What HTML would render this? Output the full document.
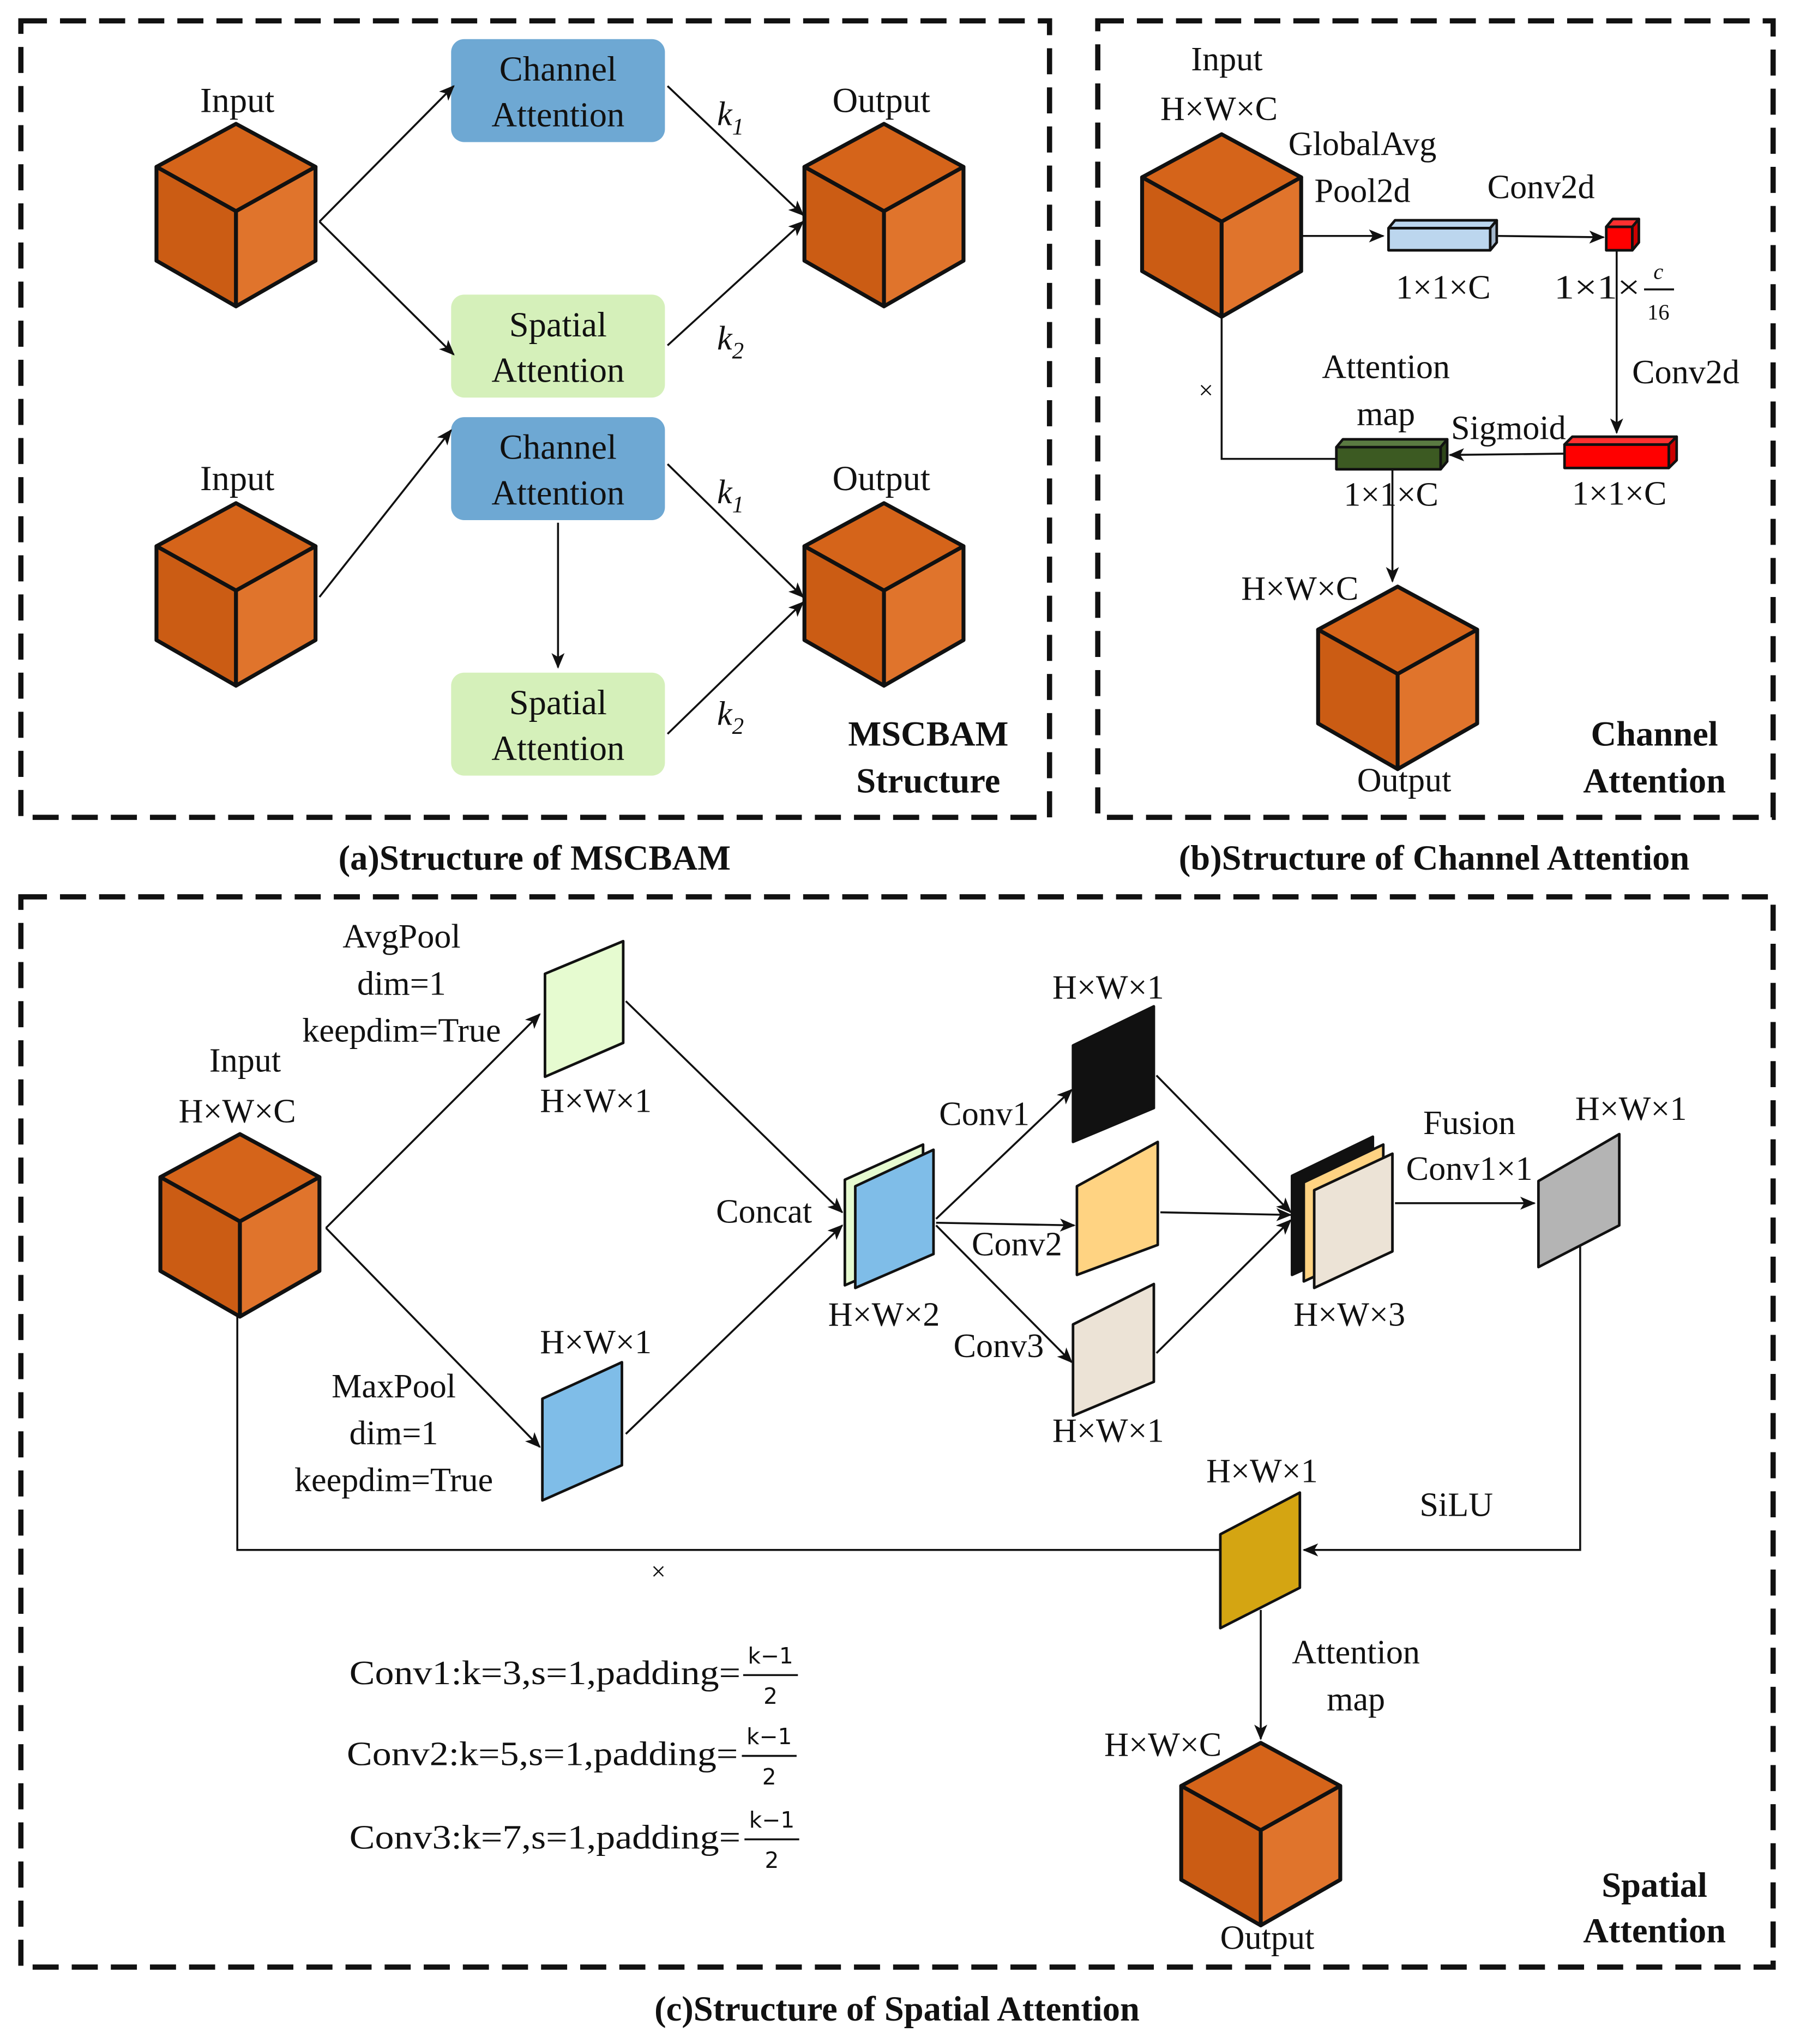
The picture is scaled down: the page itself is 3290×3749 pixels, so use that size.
<!DOCTYPE html>
<html><head><meta charset="utf-8"><style>
html,body{margin:0;padding:0;background:#fff}
svg{display:block}
text{font-family:"Liberation Serif",serif;fill:#111}
</style></head><body>
<svg width="3290" height="3749" viewBox="0 0 1376 1568" xmlns="http://www.w3.org/2000/svg">
<defs>
<marker id="ar" viewBox="0 0 12 10" refX="11" refY="5" markerWidth="12" markerHeight="10" markerUnits="userSpaceOnUse" orient="auto">
<path d="M0,0 L12,5 L0,10 L3,5 Z" fill="#111"/>
</marker>
<g id="cube">
<polygon points="61,0 122,33 61,67 0,33" fill="#d5641a" stroke="#111" stroke-width="3" stroke-linejoin="round"/>
<polygon points="0,33 61,67 61,140 0,105" fill="#cb5c14" stroke="#111" stroke-width="3" stroke-linejoin="round"/>
<polygon points="61,67 122,33 122,105 61,140" fill="#e0742c" stroke="#111" stroke-width="3" stroke-linejoin="round"/>
</g>
</defs>
<g fill="none" stroke="#111" stroke-width="4" stroke-dasharray="20 10">
<rect x="16" y="16" width="789" height="611"/>
<rect x="842" y="16" width="518" height="611"/>
<rect x="16" y="688" width="1344" height="821"/>
</g>

<!-- (a) -->
<use href="#cube" x="120" y="95"/><use href="#cube" x="617" y="95"/>
<use href="#cube" x="120" y="386"/><use href="#cube" x="617" y="386"/>
<rect x="346" y="30" width="164" height="79" rx="10" fill="#6ea8d3"/>
<rect x="346" y="226" width="164" height="79" rx="10" fill="#d5f0ba"/>
<rect x="346" y="320" width="164" height="79" rx="10" fill="#6ea8d3"/>
<rect x="346" y="516" width="164" height="79" rx="10" fill="#d5f0ba"/>
<g font-size="27" text-anchor="middle">
<text x="428" y="62">Channel</text><text x="428" y="97">Attention</text>
<text x="428" y="258">Spatial</text><text x="428" y="293">Attention</text>
<text x="428" y="352">Channel</text><text x="428" y="387">Attention</text>
<text x="428" y="548">Spatial</text><text x="428" y="583">Attention</text>
<text x="182" y="86">Input</text><text x="676" y="86">Output</text>
<text x="182" y="376">Input</text><text x="676" y="376">Output</text>
</g>
<g font-size="26" font-style="italic">
<text x="550" y="96">k<tspan font-size="18" dy="7">1</tspan></text>
<text x="550" y="268">k<tspan font-size="18" dy="7">2</tspan></text>
<text x="550" y="386">k<tspan font-size="18" dy="7">1</tspan></text>
<text x="550" y="556">k<tspan font-size="18" dy="7">2</tspan></text>
</g>
<g font-size="27" font-weight="bold" text-anchor="middle">
<text x="712" y="572">MSCBAM</text><text x="712" y="608">Structure</text>
<text x="410" y="667">(a)Structure of MSCBAM</text>
<text x="1100" y="667">(b)Structure of Channel Attention</text>
<text x="688" y="1550">(c)Structure of Spatial Attention</text>
<text x="1269" y="572">Channel</text><text x="1269" y="608">Attention</text>
<text x="1269" y="1455">Spatial</text><text x="1269" y="1490">Attention</text>
</g>
<g stroke="#111" stroke-width="1.5" fill="none" marker-end="url(#ar)">
<line x1="245" y1="170" x2="348" y2="66"/>
<line x1="245" y1="170" x2="348" y2="272"/>
<line x1="512" y1="66" x2="616" y2="165"/>
<line x1="512" y1="265" x2="616" y2="170"/>
<line x1="245" y1="458" x2="346" y2="330"/>
<line x1="428" y1="401" x2="428" y2="512"/>
<line x1="512" y1="356" x2="616" y2="458"/>
<line x1="512" y1="563" x2="616" y2="462"/>
</g>

<!-- (b) -->
<use href="#cube" x="876" y="103"/><use href="#cube" x="1011" y="450"/>
<g font-size="26" text-anchor="middle">
<text x="941" y="54">Input</text><text x="935" y="92">H×W×C</text>
<text x="1045" y="119">GlobalAvg</text><text x="1045" y="155">Pool2d</text>
<text x="1182" y="152">Conv2d</text>
<text x="1107" y="229">1×1×C</text>
<text x="1063" y="290">Attention</text><text x="1063" y="326">map</text>
<text x="1157" y="337">Sigmoid</text>
<text x="1293" y="294">Conv2d</text>
<text x="1067" y="388">1×1×C</text><text x="1242" y="387">1×1×C</text>
<text x="997" y="460">H×W×C</text>
<text x="1077" y="607">Output</text>
<text x="925" y="306" font-size="20">×</text>
</g>
<text x="1192" y="229" font-size="26" textLength="66" lengthAdjust="spacingAndGlyphs">1×1×</text>
<text x="1272" y="214" font-size="17" font-style="italic" text-anchor="middle" font-family="DejaVu Sans">c</text>
<line x1="1261" y1="222" x2="1284" y2="222" stroke="#111" stroke-width="1.5"/>
<text x="1272" y="245" font-size="17" text-anchor="middle" font-family="DejaVu Sans">16</text>
<!-- bars -->
<g stroke="#111" stroke-width="2" stroke-linejoin="round">
<rect x="1065" y="175" width="78" height="17" fill="#bcd6ee"/>
<polygon points="1065,175 1070,169 1148,169 1143,175" fill="#bcd6ee"/>
<polygon points="1143,175 1148,169 1148,186 1143,192" fill="#a4b8cc"/>
<rect x="1232" y="174" width="20" height="18" fill="#f00"/>
<polygon points="1232,174 1237,168 1257,168 1252,174" fill="#ff3030"/>
<polygon points="1252,174 1257,168 1257,186 1252,192" fill="#c00"/>
<rect x="1200" y="341" width="80" height="18" fill="#f00"/>
<polygon points="1200,341 1206,335 1286,335 1280,341" fill="#ff3030"/>
<polygon points="1280,341 1286,335 1286,353 1280,359" fill="#c00"/>
<rect x="1025" y="343" width="80" height="17" fill="#3c5a22"/>
<polygon points="1025,343 1030,337 1110,337 1105,343" fill="#5a7a42"/>
<polygon points="1105,343 1110,337 1110,354 1105,360" fill="#2e4619"/>
</g>
<g stroke="#111" stroke-width="1.5" fill="none">
<line x1="999" y1="181" x2="1061" y2="181" marker-end="url(#ar)"/>
<line x1="1149" y1="181" x2="1230" y2="182" marker-end="url(#ar)"/>
<line x1="1240" y1="192" x2="1240" y2="332" marker-end="url(#ar)"/>
<line x1="1200" y1="348" x2="1112" y2="349" marker-end="url(#ar)"/>
<polyline points="937,242 937,352 1025,352"/>
<line x1="1068" y1="360" x2="1068" y2="446" marker-end="url(#ar)"/>
</g>

<!-- (c) -->
<use href="#cube" x="123" y="870"/><use href="#cube" x="906" y="1337"/>
<g stroke="#111" stroke-width="2" stroke-linejoin="round">
<polygon points="418,747 478,722 478,800 418,826" fill="#e6fbd0"/>
<polygon points="416,1073 477,1045 477,1124 416,1151" fill="#7fbde8"/>
<polygon points="648,905 708,878 708,960 648,986" fill="#e6fbd0"/>
<polygon points="656,910 716,882 716,962 656,988" fill="#7fbde8"/>
<polygon points="823,802 885,772 885,850 823,876" fill="#111"/>
<polygon points="826,910 888,876 888,955 826,978" fill="#ffd382"/>
<polygon points="823,1016 885,985 885,1060 823,1086" fill="#ece3d6"/>
<polygon points="991,902 1053,872 1053,950 991,978" fill="#111"/>
<polygon points="1000,907 1061,878 1061,955 1000,983" fill="#ffd382"/>
<polygon points="1008,913 1068,885 1068,960 1008,988" fill="#ece3d6"/>
<polygon points="1180,906 1242,870 1242,940 1180,972" fill="#b4b4b4"/>
<polygon points="936,1177 997,1145 997,1218 936,1249" fill="#d4a512"/>
</g>
<g stroke="#111" stroke-width="1.5" fill="none">
<line x1="250" y1="942" x2="414" y2="778" marker-end="url(#ar)"/>
<line x1="250" y1="942" x2="414" y2="1110" marker-end="url(#ar)"/>
<line x1="480" y1="768" x2="646" y2="930" marker-end="url(#ar)"/>
<line x1="480" y1="1100" x2="646" y2="940" marker-end="url(#ar)"/>
<line x1="718" y1="935" x2="822" y2="836" marker-end="url(#ar)"/>
<line x1="718" y1="938" x2="824" y2="940" marker-end="url(#ar)"/>
<line x1="718" y1="940" x2="822" y2="1045" marker-end="url(#ar)"/>
<line x1="887" y1="825" x2="990" y2="930" marker-end="url(#ar)"/>
<line x1="890" y1="930" x2="990" y2="932" marker-end="url(#ar)"/>
<line x1="887" y1="1038" x2="990" y2="936" marker-end="url(#ar)"/>
<line x1="1070" y1="923" x2="1177" y2="923" marker-end="url(#ar)"/>
<polyline points="1212,956 1212,1189 1000,1189" marker-end="url(#ar)"/>
<polyline points="182,1010 182,1189 936,1189"/>
<line x1="967" y1="1235" x2="967" y2="1334" marker-end="url(#ar)"/>
</g>
<g font-size="26" text-anchor="middle">
<text x="308" y="727">AvgPool</text><text x="308" y="763">dim=1</text><text x="308" y="799">keepdim=True</text>
<text x="188" y="822">Input</text><text x="182" y="861">H×W×C</text>
<text x="457" y="853">H×W×1</text>
<text x="457" y="1038">H×W×1</text>
<text x="302" y="1072">MaxPool</text><text x="302" y="1108">dim=1</text><text x="302" y="1144">keepdim=True</text>
<text x="586" y="938">Concat</text>
<text x="678" y="1017">H×W×2</text>
<text x="850" y="766">H×W×1</text>
<text x="755" y="863">Conv1</text>
<text x="780" y="963">Conv2</text>
<text x="766" y="1041">Conv3</text>
<text x="850" y="1106">H×W×1</text>
<text x="1035" y="1017">H×W×3</text>
<text x="1127" y="870">Fusion</text><text x="1127" y="905">Conv1×1</text>
<text x="1251" y="859">H×W×1</text>
<text x="1117" y="1163">SiLU</text>
<text x="968" y="1137">H×W×1</text>
<text x="1040" y="1276">Attention</text><text x="1040" y="1312">map</text>
<text x="892" y="1347">H×W×C</text>
<text x="972" y="1495">Output</text>
<text x="505" y="1212" font-size="20">×</text>
</g>
<g font-size="26">
<text x="268" y="1292" textLength="300" lengthAdjust="spacingAndGlyphs">Conv1:k=3,s=1,padding=</text>
<text x="266" y="1354" textLength="300" lengthAdjust="spacingAndGlyphs">Conv2:k=5,s=1,padding=</text>
<text x="268" y="1418" textLength="300" lengthAdjust="spacingAndGlyphs">Conv3:k=7,s=1,padding=</text>
</g>
<g font-size="17" font-family="DejaVu Sans" text-anchor="middle">
<text x="591" y="1276" style="font-family:'DejaVu Sans',sans-serif">k−1</text><text x="591" y="1307" style="font-family:'DejaVu Sans',sans-serif">2</text>
<text x="590" y="1338" style="font-family:'DejaVu Sans',sans-serif">k−1</text><text x="590" y="1369" style="font-family:'DejaVu Sans',sans-serif">2</text>
<text x="592" y="1402" style="font-family:'DejaVu Sans',sans-serif">k−1</text><text x="592" y="1433" style="font-family:'DejaVu Sans',sans-serif">2</text>
</g>
<g stroke="#111" stroke-width="1.5">
<line x1="570" y1="1285" x2="612" y2="1285"/>
<line x1="569" y1="1347" x2="611" y2="1347"/>
<line x1="571" y1="1411" x2="613" y2="1411"/>
</g>
</svg>
</body></html>
